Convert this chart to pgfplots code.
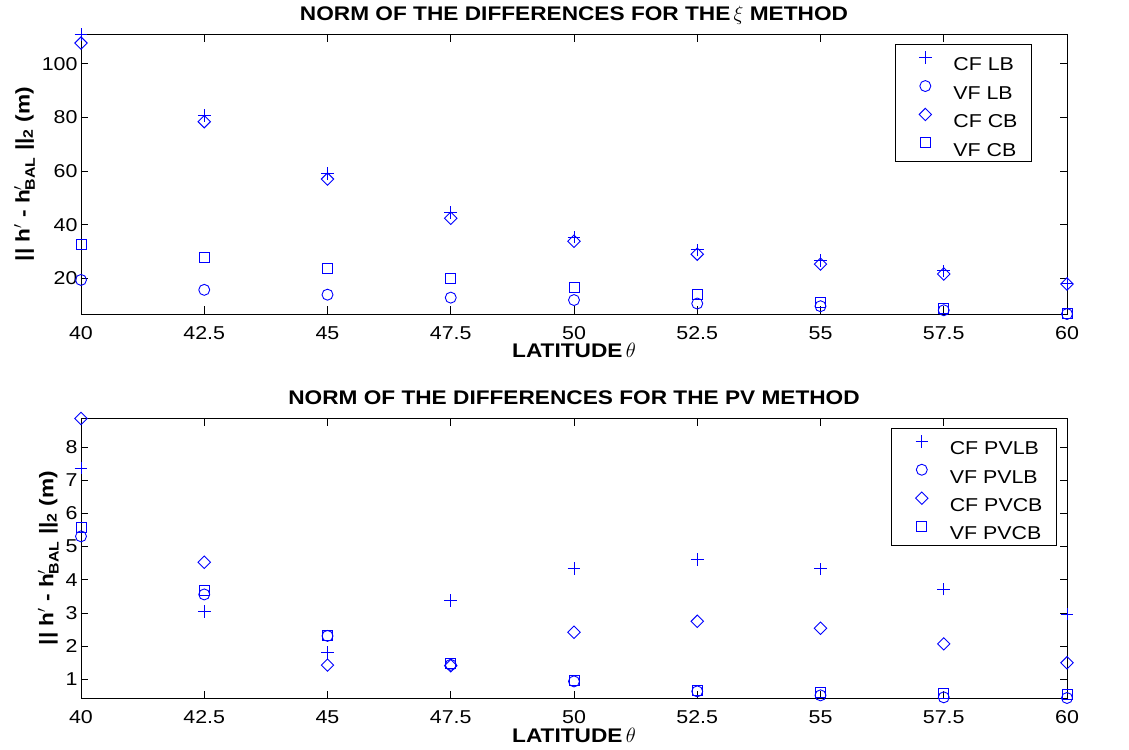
\documentclass[border=0pt]{standalone}
\usepackage{amsmath}
\usepackage{fontspec}
\setmainfont{Liberation Sans}[FakeStretch=1.15]
\usepackage{pgfplots}
\pgfplotsset{compat=1.18}

\newcommand\tickfont{\fontsize{18.6bp}{22bp}\selectfont}
\newcommand\labfont{\fontsize{19.7bp}{23bp}\selectfont\bfseries}

% MATLAB-style markers, stroked in pure blue
\newcommand\mkpen{\pgfsetstrokecolor{blue}\pgfsetlinewidth{0.9bp}}
\pgfdeclareplotmark{mplus}{\mkpen
  \pgfpathmoveto{\pgfqpoint{-\pgfplotmarksize}{0pt}}%
  \pgfpathlineto{\pgfqpoint{\pgfplotmarksize}{0pt}}%
  \pgfpathmoveto{\pgfqpoint{0pt}{-\pgfplotmarksize}}%
  \pgfpathlineto{\pgfqpoint{0pt}{\pgfplotmarksize}}%
  \pgfusepathqstroke}
\pgfdeclareplotmark{mcircle}{\mkpen
  \pgfpathcircle{\pgfpointorigin}{\pgfplotmarksize}%
  \pgfusepathqstroke}
\pgfdeclareplotmark{mdiamond}{\mkpen
  \pgfpathmoveto{\pgfqpoint{0pt}{\pgfplotmarksize}}%
  \pgfpathlineto{\pgfqpoint{\pgfplotmarksize}{0pt}}%
  \pgfpathlineto{\pgfqpoint{0pt}{-\pgfplotmarksize}}%
  \pgfpathlineto{\pgfqpoint{-\pgfplotmarksize}{0pt}}%
  \pgfpathclose\pgfusepathqstroke}
\pgfdeclareplotmark{msquare}{\mkpen
  \pgfpathrectangle{\pgfqpoint{-\pgfplotmarksize}{-\pgfplotmarksize}}%
    {\pgfqpoint{2\pgfplotmarksize}{2\pgfplotmarksize}}%
  \pgfusepathqstroke}

\pgfplotsset{
  normax/.style={
    scale only axis, width=986bp, height=279.5bp,
    xmin=40, xmax=60,
    xtick={40,42.5,45,47.5,50,52.5,55,57.5,60},
    xticklabels={40,42.5,45,47.5,50,52.5,55,57.5,60},
    tick align=inside, major tick length=7.5bp,
    tick style={black, line width=0.8bp},
    axis line style={black, line width=0.9bp},
    tick label style={font=\tickfont, text=black},
    xticklabel style={anchor=base, yshift=-25.5bp},
    label style={font=\labfont, text=black},
    title style={font=\labfont, text=black, at={(0.5,1)}, anchor=base, yshift=8.5bp},
    xlabel style={at={(0.5,0)}, anchor=base, yshift=-44bp},
    xlabel={LATITUDE\,$\theta$},
    ylabel={|| h$^{\prime}$ - h$^{\prime}_{\text{\bfseries BAL}}$ ||$_{\text{\bfseries 2}}$ (m)},
    clip=false,
    legend cell align=left,
    legend style={font=\tickfont, text=black, anchor=north east, draw=black, line width=1bp,
      inner xsep=14bp, inner ysep=5.7bp, row sep=8.2bp, column sep=12bp,
      nodes={inner sep=0pt, text height=13.5bp, text depth=0bp}},
    legend image code/.code={%
      \path[draw=none] (0bp,0bp) rectangle (32bp,13.5bp);
      \draw[##1] plot coordinates {(16bp,6.6bp)};},
    mk/.style={only marks, color=blue, draw=blue, fill=none},
    cf/.style={mk, mark=mplus, mark size=6.3bp},
    vf/.style={mk, mark=mcircle, mark size=5.5bp},
    cfc/.style={mk, mark=mdiamond, mark size=6.2bp},
    vfc/.style={mk, mark=msquare, mark size=5bp},
  },
}

\begin{document}
\begin{tikzpicture}
\useasboundingbox (-81bp,-52bp) rectangle (1048bp,698bp);

% xi method
\begin{axis}[normax, at={(0bp,384bp)}, anchor=south west,
  ymin=6.7, ymax=110.9,
  ytick={20,40,60,80,100}, yticklabels={20,40,60,80,100},
  title={NORM OF THE DIFFERENCES FOR THE\,$\xi$ METHOD},
  legend style={at={(1,1)}, xshift=-35bp, yshift=-10bp}]
\addplot[cf] coordinates {(40,110.9)(42.5,80.8)(45,59)(47.5,44.5)(50,35.4)(52.5,30.6)(55,26.6)(57.5,22.8)(60,18.1)};
\addlegendentry{CF LB}
\addplot[vf] coordinates {(40,19.4)(42.5,15.7)(45,13.9)(47.5,12.8)(50,11.9)(52.5,10.6)(55,9.6)(57.5,8.1)(60,6.7)};
\addlegendentry{VF LB}
\addplot[cfc] coordinates {(40,107.7)(42.5,78.4)(45,57)(47.5,42.4)(50,33.8)(52.5,29.0)(55,25.3)(57.5,21.6)(60,17.9)};
\addlegendentry{CF CB}
\addplot[vfc] coordinates {(40,32.8)(42.5,27.7)(45,23.6)(47.5,19.9)(50,16.6)(52.5,13.9)(55,11.1)(57.5,8.8)(60,6.9)};
\addlegendentry{VF CB}
\end{axis}

% PV method
\begin{axis}[normax, at={(0bp,0bp)}, anchor=south west,
  ymin=0.44, ymax=8.86,
  ytick={1,2,3,4,5,6,7,8}, yticklabels={1,2,3,4,5,6,7,8},
  title={NORM OF THE DIFFERENCES FOR THE PV METHOD},
  legend style={at={(1,1)}, xshift=-10bp, yshift=-9.7bp}]
\addplot[cf] coordinates {(40,7.37)(42.5,3.05)(45,1.81)(47.5,3.37)(50,4.35)(52.5,4.62)(55,4.33)(57.5,3.72)(60,2.97)};
\addlegendentry{CF PVLB}
\addplot[vf] coordinates {(40,5.31)(42.5,3.56)(45,2.31)(47.5,1.44)(50,0.94)(52.5,0.64)(55,0.52)(57.5,0.46)(60,0.44)};
\addlegendentry{VF PVLB}
\addplot[cfc] coordinates {(40,8.86)(42.5,4.53)(45,1.43)(47.5,1.41)(50,2.42)(52.5,2.75)(55,2.54)(57.5,2.07)(60,1.50)};
\addlegendentry{CF PVCB}
\addplot[vfc] coordinates {(40,5.59)(42.5,3.68)(45,2.33)(47.5,1.48)(50,0.96)(52.5,0.66)(55,0.60)(57.5,0.58)(60,0.54)};
\addlegendentry{VF PVCB}
\end{axis}
\end{tikzpicture}
\end{document}
